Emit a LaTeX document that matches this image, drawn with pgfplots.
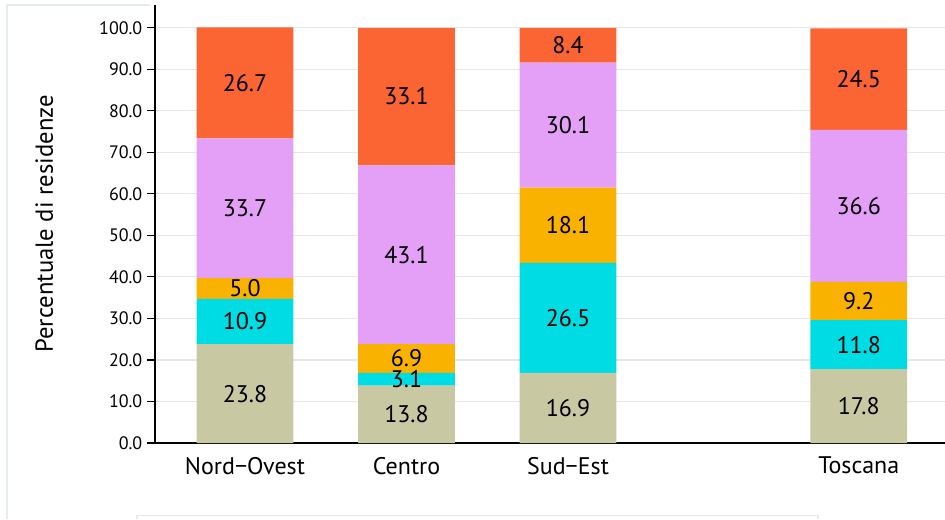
\documentclass[border=0pt]{standalone}
\usepackage{pgfplots}
\pgfplotsset{compat=1.18}
\usepackage{fontspec}
\setmainfont{PT Sans}
\usetikzlibrary{calc}
\definecolor{cA}{HTML}{C8C8A2}
\definecolor{cB}{HTML}{00DCE4}
\definecolor{cC}{HTML}{F9B200}
\definecolor{cD}{HTML}{E4A0F7}
\definecolor{cE}{HTML}{FA6533}
\definecolor{gridc}{HTML}{E6E6E6}
\definecolor{framec}{HTML}{E4ECEE}
\begin{document}
\begin{tikzpicture}
\begin{axis}[
  scale only axis,
  width=592.5pt, height=328.5pt,
  ybar stacked, bar width=0.6,
  xmin=-0.557, xmax=4.334,
  ymin=0, ymax=105.5,
  xtick={0,1,2,3.8},
  xticklabels={Nord−Ovest, Centro, Sud−Est, Toscana},
  x tick label style={font=\fontsize{18}{20}\selectfont, yshift=-1pt},
  ytick={0,10,...,100},
  y tick label style={font=\fontsize{13.5}{15}\selectfont},
  yticklabel={\pgfmathprintnumber[fixed,fixed zerofill,precision=1]{\tick}},
  /pgf/number format/assume math mode=true,
  axis x line*=bottom, axis y line*=left,
  axis line style={black, line width=1pt},
  x axis line style={-}, y axis line style={-},
  xtick style={draw=none},
  ytick style={black, line width=0.8pt},
  tick align=outside, major tick length=6pt,
  ymajorgrids, grid style={gridc, line width=0.8pt},
  ylabel={Percentuale di residenze},
  every axis y label/.style={at={(rel axis cs:0,0.5)}, xshift=-83pt, rotate=90, anchor=center, font=\fontsize{18.5}{20}\selectfont},
  visualization depends on=rawy \as \rawy,
  nodes near coords={\pgfmathprintnumber[fixed,fixed zerofill,precision=1]{\rawy}},
  every node near coord/.append style={font=\fontsize{18}{20}\selectfont, black, anchor=center},
  clip=false,
]
\addplot[fill=cA, draw=none] coordinates {(0,23.8) (1,13.8) (2,16.9) (3.8,17.8)};
\addplot[fill=cB, draw=none] coordinates {(0,10.9) (1,3.1) (2,26.5) (3.8,11.8)};
\addplot[fill=cC, draw=none] coordinates {(0,5.0) (1,6.9) (2,18.1) (3.8,9.2)};
\addplot[fill=cD, draw=none] coordinates {(0,33.7) (1,43.1) (2,30.1) (3.8,36.6)};
\addplot[fill=cE, draw=none] coordinates {(0,26.7) (1,33.1) (2,8.4) (3.8,24.5)};
\end{axis}
\begin{scope}[shift={($(current axis.south west)+(-116.25pt,332.25pt)$)}, x=0.75pt, y=-0.75pt]
\draw[framec, line width=0.8pt] (7,519) -- (7,5) -- (150,5);
\draw[framec, line width=0.8pt] (137,519) -- (137,515.5) -- (818,515.5) -- (818,519);
\pgfresetboundingbox
\useasboundingbox (0,0) rectangle (945,519);
\end{scope}
\end{tikzpicture}
\end{document}
